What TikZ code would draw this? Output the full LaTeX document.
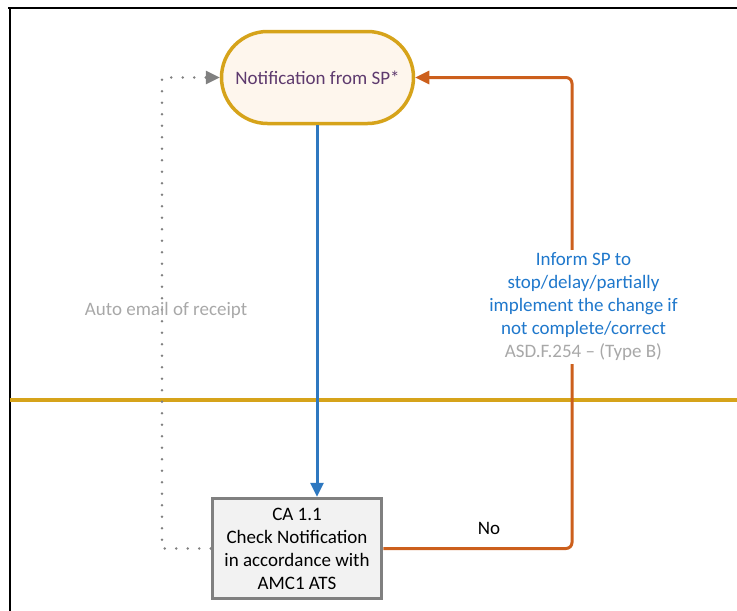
\documentclass[tikz,border=0pt]{standalone}
\usepackage{fontspec}
\setmainfont{Carlito}
\usetikzlibrary{arrows.meta,shapes.misc}
\definecolor{gold}{HTML}{D6A31A}
\definecolor{cream}{HTML}{FEF6ED}
\definecolor{purp}{HTML}{5E3A6E}
\definecolor{bluel}{HTML}{2E78C0}
\definecolor{bluet}{HTML}{1F78CC}
\definecolor{oran}{HTML}{CC5F1C}
\definecolor{grayt}{HTML}{A8A8A8}
\definecolor{grayd}{HTML}{808080}
\definecolor{boxfill}{HTML}{F2F2F2}
\tikzset{
  txt/.style={font=\fontsize{19}{23}\selectfont, align=center},
  startnode/.style={txt, shape=rounded rectangle, draw=gold, line width=3.5pt, fill=cream,
    text=purp, minimum width=192pt, minimum height=92pt, inner sep=0pt},
  procnode/.style={txt, draw=grayd, line width=3.5pt, fill=boxfill, text=black,
    minimum width=169pt, minimum height=100pt, inner sep=0pt},
  tipT/.style={-{Triangle[length=14pt,width=13pt]}},
  bluearrow/.style={draw=bluel, line width=3pt, tipT},
  orangearrow/.style={draw=oran, line width=3pt, rounded corners=6pt, tipT},
  dotarrow/.style={draw=grayd, line width=2.8pt, line cap=round, dash pattern=on 0pt off 11.5pt, tipT}
}
\begin{document}
\begin{tikzpicture}[x=1pt,y=-1pt]
\useasboundingbox (0,0) rectangle (737,611);
% frame
\draw[black, line width=2pt] (8,8) -- (737,8);
\draw[black, line width=2pt] (9.5,8) -- (9.5,611);
% swimlane separator
\draw[gold, line width=3.5pt] (9.5,400) -- (737,400);
% nodes
\node[startnode] (n) at (317.5,77.5) {Notification from SP*};
\node[procnode] (ca) at (297,548.5) {CA 1.1\\Check Notification\\in accordance with\\AMC1 ATS};
\coordinate (oc) at (572,77.5);
\coordinate (gc) at (162,77.5);
\coordinate (bt) at (317,125);
% connectors
\draw[bluearrow] (n.south -| bt) -- (ca.north -| bt);
\draw[orangearrow] (ca.east) -| (oc) -- (n.east);
\draw[dotarrow] (ca.west) -| (gc) -- (n.west);
% labels
\node[txt, fill=white, inner sep=3pt, text=bluet] (inf) at (583.5,307)
  {Inform SP to\\stop/delay/partially\\implement the change if\\not complete/correct\\\textcolor{grayt}{ASD.F.254 – (Type B)}};
\node[txt, text=black] (no) at (489,528) {No};
\node[txt, text=grayt] (auto) at (166,310) {Auto email of receipt};
\end{tikzpicture}
\end{document}
